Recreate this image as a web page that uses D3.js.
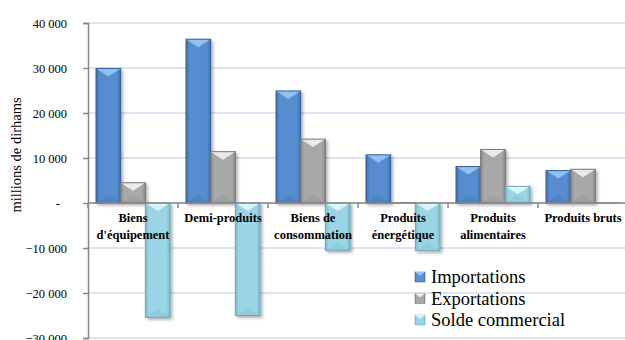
<!DOCTYPE html>
<html>
<head>
<meta charset="utf-8">
<script src="https://cdn.jsdelivr.net/npm/d3@7"></script>
<style>
  body { margin: 0; background: #fff; }
</style>
</head>
<body>
<div id="chart"></div>
<script>
// categories and series (millions de dirhams)
var categories = [
	["Biens", "d'équipement"],
	["Demi-produits"],
	["Biens de", "consommation"],
	["Produits", "énergétique"],
	["Produits", "alimentaires"],
	["Produits bruts"]
];
var importations = [29900, 36400, 24900, 10700, 8100, 7200];
var exportations = [4500, 11400, 14200, 0, 11900, 7500];
var solde = [-25400, -25000, -10500, -10600, 3700, 250];
var yTicks = [-30000, -20000, -10000, 0, 10000, 20000, 30000, 40000];
var seriesNames = ["Importations", "Exportations", "Solde commercial"];

var serif = "'Liberation Serif', 'Times New Roman', Times, serif";
var width = 625, height = 340;
var margin = { top: 23, left: 88 };

var svg = d3.select("#chart").append("svg")
	.attr("width", width)
	.attr("height", height)
	.style("display", "block");

var defs = svg.append("defs");

// colours per series: edge, centre, light bevel, dark bevel, stroke
var palette = [
	{ edge: "#3d6eae", mid: "#558dd0", light: "#9cc9f8", dark: "#3f6fa6", stroke: "#355f94" },
	{ edge: "#8a8a8a", mid: "#a9a9a9", light: "#f6f6f6", dark: "#8c8c8c", stroke: "#777" },
	{ edge: "#7ebacb", mid: "#9ad5e5", light: "#e6f9fd", dark: "#7fb9c8", stroke: "#6ca6b5" }
];

palette.forEach(function(p, i) {
	var g = defs.append("linearGradient")
		.attr("id", "grad" + i)
		.attr("x1", "0").attr("x2", "1").attr("y1", "0").attr("y2", "0");
	g.append("stop").attr("offset", "0").attr("stop-color", p.edge);
	g.append("stop").attr("offset", "0.15").attr("stop-color", p.mid);
	g.append("stop").attr("offset", "0.85").attr("stop-color", p.mid);
	g.append("stop").attr("offset", "1").attr("stop-color", p.edge);
});

var shadow = defs.append("filter").attr("id", "shadow")
	.attr("x", "-30%").attr("y", "-10%").attr("width", "160%").attr("height", "130%");
shadow.append("feDropShadow")
	.attr("dx", 2).attr("dy", 2).attr("stdDeviation", 1.5)
	.attr("flood-color", "#000").attr("flood-opacity", 0.3);

var y = d3.scaleLinear()
	.domain([-30000, 40000])
	.range([338, margin.top]);

var x0 = d3.scaleBand()
	.domain(d3.range(categories.length))
	.range([margin.left, 628]);

var x1 = d3.scaleBand()
	.domain([0, 1, 2])
	.range([8, 8 + 74]);

// gridlines
svg.append("g")
	.selectAll("line")
	.data(yTicks)
	.join("line")
	.attr("x1", margin.left)
	.attr("x2", width)
	.attr("y1", function(d) { return y(d); })
	.attr("y2", function(d) { return y(d); })
	.attr("stroke", "#dbe4f1")
	.attr("stroke-width", 2);

// y axis
var yAxis = d3.axisLeft(y)
	.tickValues(yTicks)
	.tickSize(5)
	.tickFormat(function(d) {
		return d === 0 ? "-" : d3.format(",")(d).replace(/,/g, " ");
	});

var yg = svg.append("g")
	.attr("transform", "translate(" + margin.left + ",0)")
	.call(yAxis)
	.attr("font-family", serif);
yg.select(".domain").attr("stroke", "#878787").attr("stroke-width", 1.5);
yg.selectAll(".tick line").attr("stroke", "#878787").attr("stroke-width", 1.5);
yg.selectAll(".tick text")
	.attr("font-size", 12.5)
	.attr("fill", "#000")
	.attr("x", function(d) { return d === 0 ? -28 : -21; });

svg.append("text")
	.attr("transform", "translate(21,155) rotate(-90)")
	.attr("text-anchor", "middle")
	.attr("font-family", serif)
	.attr("font-size", 14.5)
	.text("millions de dirhams");

// bars
var series = [importations, exportations, solde];
var barW = x1.bandwidth();

series.forEach(function(values, s) {
	var p = palette[s];
	var g = svg.append("g").attr("class", "series" + s);
	var bars = g.selectAll("g.bar")
		.data(values)
		.join("g")
		.attr("class", "bar")
		.attr("filter", "url(#shadow)");

	bars.each(function(v, i) {
		var bx = x0(i) + x1(s);
		var top = y(Math.max(v, 0));
		var bottom = y(Math.min(v, 0));
		var h = bottom - top;
		var el = d3.select(this);
		if (h < 1.5) {
			el.append("rect")
				.attr("x", bx).attr("y", y(0) - 1)
				.attr("width", barW).attr("height", 1.5)
				.attr("fill", p.edge);
			return;
		}
		el.append("rect")
			.attr("x", bx).attr("y", top)
			.attr("width", barW).attr("height", h)
			.attr("fill", "url(#grad" + s + ")");
		var bev = Math.min(8, h / 2);
		el.append("path")
			.attr("d", "M" + bx + "," + top + "L" + (bx + barW) + "," + top +
				"L" + (bx + barW / 2) + "," + (top + bev) + "Z")
			.attr("fill", p.light)
			.attr("opacity", 0.85);
		el.append("path")
			.attr("d", "M" + bx + "," + bottom + "L" + (bx + barW) + "," + bottom +
				"L" + (bx + barW / 2) + "," + (bottom - bev) + "Z")
			.attr("fill", p.dark)
			.attr("opacity", 0.3);
		el.append("rect")
			.attr("x", bx).attr("y", top)
			.attr("width", barW).attr("height", h)
			.attr("fill", "none")
			.attr("stroke", p.stroke)
			.attr("stroke-width", 1);
	});
});

// x axis at zero
var xg = svg.append("g");
xg.append("line")
	.attr("x1", margin.left).attr("x2", width)
	.attr("y1", y(0)).attr("y2", y(0))
	.attr("stroke", "#878787").attr("stroke-width", 1.5);
xg.selectAll("line.tick")
	.data(d3.range(categories.length))
	.join("line")
	.attr("class", "tick")
	.attr("x1", function(d) { return x0(d); })
	.attr("x2", function(d) { return x0(d); })
	.attr("y1", y(0)).attr("y2", y(0) + 5)
	.attr("stroke", "#878787").attr("stroke-width", 1.5);

// category labels
xg.selectAll("text.cat")
	.data(categories)
	.join("text")
	.attr("class", "cat")
	.attr("text-anchor", "middle")
	.attr("font-family", serif)
	.attr("font-weight", "bold")
	.attr("font-size", 12.5)
	.attr("x", function(d, i) { return x0(i) + x0.bandwidth() / 2; })
	.attr("y", 222)
	.each(function(d) {
		var t = d3.select(this);
		d.forEach(function(line, k) {
			t.append("tspan")
				.attr("x", t.attr("x"))
				.attr("dy", k === 0 ? 0 : 17)
				.text(line);
		});
	});

// legend
var legend = svg.append("g").attr("transform", "translate(415,272)");
seriesNames.forEach(function(name, s) {
	var p = palette[s];
	var row = legend.append("g").attr("transform", "translate(0," + (s * 21.5) + ")");
	row.append("rect")
		.attr("width", 10).attr("height", 10)
		.attr("fill", "url(#grad" + s + ")")
		.attr("stroke", p.stroke).attr("stroke-width", 0.5);
	row.append("path")
		.attr("d", "M0,0L10,0L5,4Z")
		.attr("fill", p.light).attr("opacity", 0.9);
	row.append("text")
		.attr("x", 16).attr("y", 11)
		.attr("font-family", serif)
		.attr("font-size", 18.5)
		.text(name);
});
</script>
</body>
</html>
